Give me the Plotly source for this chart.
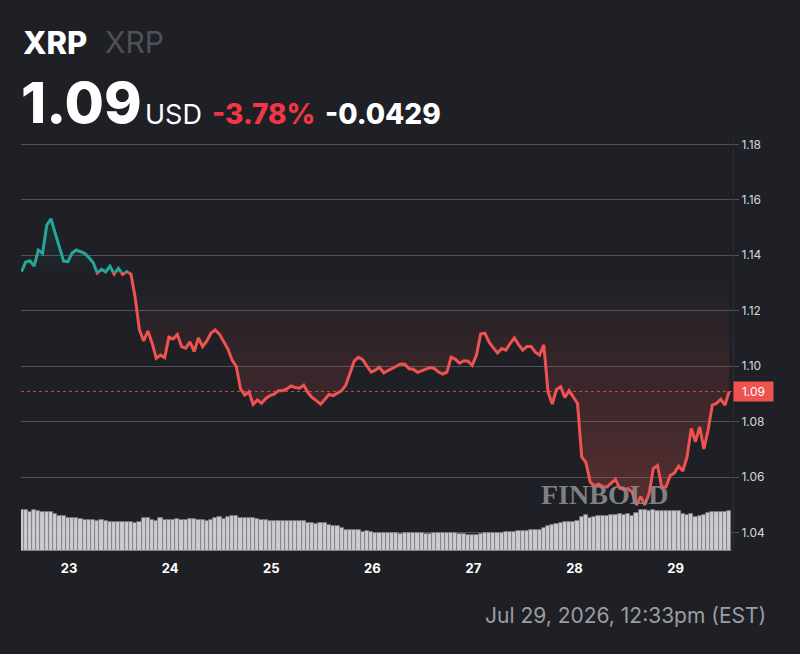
import numpy as np
import plotly.graph_objects as go

# ---------------- data ----------------
day_ticks = [23, 24, 25, 26, 27, 28, 29]
day_labels = ["23", "24", "25", "26", "27", "28", "29"]
start_day = 22.53          # first hourly sample (Jul 22, ~12:30)
prev_close = 1.1338
change_abs = "-0.0429"
change_pct = "-3.78%"

price = [
    1.1341, 1.1376, 1.1380, 1.1361, 1.1419, 1.1407, 1.1509, 1.1531, 1.1480, 1.1426,
    1.1379, 1.1377, 1.1408, 1.1419, 1.1412, 1.1407, 1.1392, 1.1374, 1.1336, 1.1349,
    1.1340, 1.1361, 1.1332, 1.1353, 1.1331, 1.1341, 1.1332, 1.1246, 1.1131, 1.1091,
    1.1127, 1.1084, 1.1029, 1.1040, 1.1031, 1.1105, 1.1098, 1.1114, 1.1071, 1.1065,
    1.1088, 1.1053, 1.1102, 1.1071, 1.1091, 1.1120, 1.1131, 1.1116, 1.1091, 1.1062,
    1.1022, 1.0999, 1.0918, 1.0896, 1.0908, 1.0862, 1.0878, 1.0867, 1.0884, 1.0894,
    1.0899, 1.0912, 1.0912, 1.0918, 1.0929, 1.0923, 1.0921, 1.0932, 1.0905, 1.0887,
    1.0876, 1.0863, 1.0880, 1.0898, 1.0894, 1.0902, 1.0912, 1.0932, 1.0976, 1.1019,
    1.1032, 1.1024, 1.1001, 1.0979, 1.0986, 1.0996, 1.0976, 1.0983, 1.0991, 1.1000,
    1.1008, 1.1007, 1.0991, 1.0989, 1.0978, 1.0983, 1.0990, 1.0995, 1.0992, 1.0979,
    1.0972, 1.0979, 1.1033, 1.1025, 1.1011, 1.1020, 1.1018, 1.1003, 1.1039, 1.1116,
    1.1119, 1.1087, 1.1067, 1.1048, 1.1064, 1.1058, 1.1082, 1.1102, 1.1078, 1.1058,
    1.1071, 1.1071, 1.1051, 1.1040, 1.1077, 1.0907, 1.0864, 1.0916, 1.0926, 1.0887,
    1.0912, 1.0891, 1.0866, 1.0673, 1.0653, 1.0583, 1.0568, 1.0575, 1.0566, 1.0565,
    1.0579, 1.0592, 1.0560, 1.0556, 1.0559, 1.0545, 1.0500, 1.0530, 1.0500, 1.0541,
    1.0631, 1.0642, 1.0565, 1.0565, 1.0606, 1.0615, 1.0640, 1.0622, 1.0673, 1.0776,
    1.0728, 1.0781, 1.0702, 1.0770, 1.0860, 1.0866, 1.0881, 1.0860, 1.0909,
]

volume = [
    41.3, 41.3, 39.0, 40.7, 39.7, 39.0, 39.0, 38.7, 36.7, 35.0,
    34.7, 33.3, 33.3, 32.7, 32.0, 31.0, 31.0, 30.7, 30.0, 30.7,
    30.0, 29.3, 29.3, 29.3, 29.3, 28.7, 28.7, 27.7, 29.3, 32.7,
    32.7, 30.7, 30.0, 32.7, 31.0, 31.0, 31.0, 31.7, 31.0, 31.0,
    31.7, 31.7, 31.0, 31.0, 30.3, 31.0, 33.3, 34.0, 32.0, 34.0,
    35.0, 34.7, 33.3, 33.3, 33.3, 33.3, 32.0, 31.0, 31.0, 30.0,
    30.0, 30.3, 30.3, 30.3, 30.3, 30.0, 30.3, 30.0, 28.0, 28.0,
    27.3, 28.0, 28.0, 25.7, 24.7, 24.7, 23.0, 20.7, 20.7, 20.7,
    20.7, 19.3, 20.0, 19.3, 18.3, 18.3, 18.3, 18.3, 18.3, 18.3,
    17.0, 18.0, 18.0, 18.0, 18.0, 18.0, 17.0, 17.0, 18.0, 18.0,
    18.0, 18.0, 18.0, 18.0, 17.0, 17.0, 16.0, 16.0, 16.0, 17.3,
    18.0, 18.0, 18.0, 18.0, 18.3, 18.7, 19.0, 19.0, 19.7, 20.0,
    20.3, 20.7, 20.7, 21.3, 23.0, 25.3, 26.3, 27.3, 28.0, 28.7,
    29.3, 29.3, 29.7, 34.0, 35.7, 33.3, 34.0, 35.3, 35.0, 35.0,
    35.7, 35.7, 37.3, 36.3, 37.3, 35.3, 37.7, 40.7, 40.7, 40.0,
    41.0, 40.3, 40.3, 39.7, 39.7, 39.7, 40.3, 36.7, 36.0, 37.3,
    33.7, 35.3, 36.0, 38.0, 39.0, 39.0, 39.0, 39.0, 39.7,
]

# ---------------- styling ----------------
BG = "#1e2025"
GREEN = "#26a69a"
RED = "#ef5350"
GRID = "#505257"
FONT = "Inter"

x = start_day + np.arange(len(price)) / 24.0
y = np.array(price)
b = prev_close

# insert baseline crossings so the line can switch colour exactly at the baseline
xs, ys = [x[0]], [y[0]]
for i in range(1, len(x)):
    y0, y1 = y[i - 1], y[i]
    if (y0 - b) * (y1 - b) < 0:
        t = (b - y0) / (y1 - y0)
        xs.append(x[i - 1] + t * (x[i] - x[i - 1]))
        ys.append(b)
    xs.append(x[i])
    ys.append(y1)
xs = np.array(xs)
ys = np.array(ys)
green_y = np.where(ys >= b, ys, np.nan)
red_y = np.where(ys <= b, ys, np.nan)

# plot-area geometry (pixels)
L, R, T, B = 21, 733, 140, 551
W, H = 800, 654


def px(v):
    return (v - L) / (R - L)


def py(v):
    return (B - v) / (B - T)


fig = go.Figure()

# volume (primary y, hidden)
fig.add_trace(go.Bar(
    x=x, y=volume, yaxis="y", width=1 / 24.0,
    marker=dict(color="rgba(216,217,222,0.93)", line=dict(color="#7c7d82", width=0.8)),
    hoverinfo="skip", showlegend=False,
))

# fills relative to baseline
base = np.full(len(xs), b)
fig.add_trace(go.Scatter(x=xs, y=base, yaxis="y2", mode="lines",
                         line=dict(width=0), hoverinfo="skip", showlegend=False))
fig.add_trace(go.Scatter(
    x=xs, y=np.minimum(ys, b), yaxis="y2", mode="lines", line=dict(width=0),
    fill="tonexty",
    fillgradient=dict(type="vertical", start=1.045, stop=b,
                      colorscale=[[0, "rgba(239,83,80,0.28)"], [0.6, "rgba(239,83,80,0.12)"],
                                  [1, "rgba(239,83,80,0.0)"]]),
    hoverinfo="skip", showlegend=False))
fig.add_trace(go.Scatter(x=xs, y=base, yaxis="y2", mode="lines",
                         line=dict(width=0), hoverinfo="skip", showlegend=False))
fig.add_trace(go.Scatter(
    x=xs, y=np.maximum(ys, b), yaxis="y2", mode="lines", line=dict(width=0),
    fill="tonexty",
    fillgradient=dict(type="vertical", start=b, stop=1.154,
                      colorscale=[[0, "rgba(38,166,154,0.0)"], [1, "rgba(38,166,154,0.14)"]]),
    hoverinfo="skip", showlegend=False))

# price line
fig.add_trace(go.Scatter(x=xs, y=green_y, yaxis="y2", mode="lines",
                         line=dict(color=GREEN, width=3), connectgaps=False,
                         showlegend=False))
fig.add_trace(go.Scatter(x=xs, y=red_y, yaxis="y2", mode="lines",
                         line=dict(color=RED, width=3), connectgaps=False,
                         showlegend=False))

last = price[-1]

fig.add_shape(type="line", xref="paper", x0=0, x1=1, yref="y2", y0=last, y1=last,
              line=dict(color="rgba(239,83,80,0.8)", width=1, dash="dot"))

ann = []
# header
ann.append(dict(text="XRP", x=px(21), y=py(42.5), xanchor="left", yanchor="middle",
                font=dict(family=FONT, size=31, color="white", weight=800)))
ann.append(dict(text="XRP", x=px(103), y=py(42.5), xanchor="left", yanchor="middle",
                font=dict(family=FONT, size=30, color="#4e5156")))
ann.append(dict(text="1.09", x=px(19), y=py(102.5), xanchor="left", yanchor="middle",
                font=dict(family=FONT, size=57, color="white", weight=800)))
ann.append(dict(text="USD", x=px(143), y=py(114.5), xanchor="left", yanchor="middle",
                font=dict(family=FONT, size=27, color="white")))
ann.append(dict(text=change_pct, x=px(210), y=py(114.5), xanchor="left", yanchor="middle",
                font=dict(family=FONT, size=28, color="#f23645", weight=800)))
ann.append(dict(text=change_abs, x=px(323), y=py(114.5), xanchor="left", yanchor="middle",
                font=dict(family=FONT, size=28, color="white", weight=800)))
# timestamp
ann.append(dict(text="Jul 29, 2026, 12:33pm (EST)", x=px(768), y=py(615),
                xanchor="right", yanchor="middle",
                font=dict(family=FONT, size=21, color="#9c9da2")))
# watermark
ann.append(dict(text="FINBOLD", x=px(605), y=py(494), xanchor="center", yanchor="middle",
                font=dict(family="Liberation Serif", size=28, color="rgba(138,138,140,0.92)",
                          weight=700)))
# last price label
ann.append(dict(text="1.09", x=1.0, xanchor="left", yref="y2", y=last, yanchor="middle",
                showarrow=False, bgcolor=RED, borderpad=2, width=35,
                font=dict(family=FONT, size=12, color="white")))

for a in ann:
    a.setdefault("xref", "paper")
    a.setdefault("yref", "paper")
    a["showarrow"] = False

fig.update_layout(
    width=W, height=H,
    margin=dict(l=L, r=W - R, t=T, b=H - B),
    paper_bgcolor=BG, plot_bgcolor=BG,
    showlegend=False, bargap=0,
    annotations=ann,
    xaxis=dict(range=[22.5252, 29.568], tickmode="array", tickvals=day_ticks,
               ticktext=day_labels,
               showgrid=False, zeroline=False, showline=False,
               ticks="outside", ticklen=5, tickcolor="rgba(0,0,0,0)",
               tickfont=dict(family=FONT, size=13, color="white", weight=700)),
    yaxis=dict(range=[0, B - T], visible=False, fixedrange=True),
    yaxis2=dict(overlaying="y", side="right", range=[1.0334, 1.18155],
                tickvals=[1.04, 1.06, 1.08, 1.10, 1.12, 1.14, 1.16, 1.18],
                ticktext=["1.04", "1.06", "1.08", "1.10", "1.12", "1.14", "1.16", "1.18"],
                showgrid=True, gridcolor=GRID, gridwidth=1, zeroline=False,
                showline=True, linecolor="#2b2d32", linewidth=1,
                ticks="outside", ticklen=5, tickcolor=GRID,
                tickfont=dict(family=FONT, size=12, color="#d6d7db")),
)

fig.write_html("out.html")
